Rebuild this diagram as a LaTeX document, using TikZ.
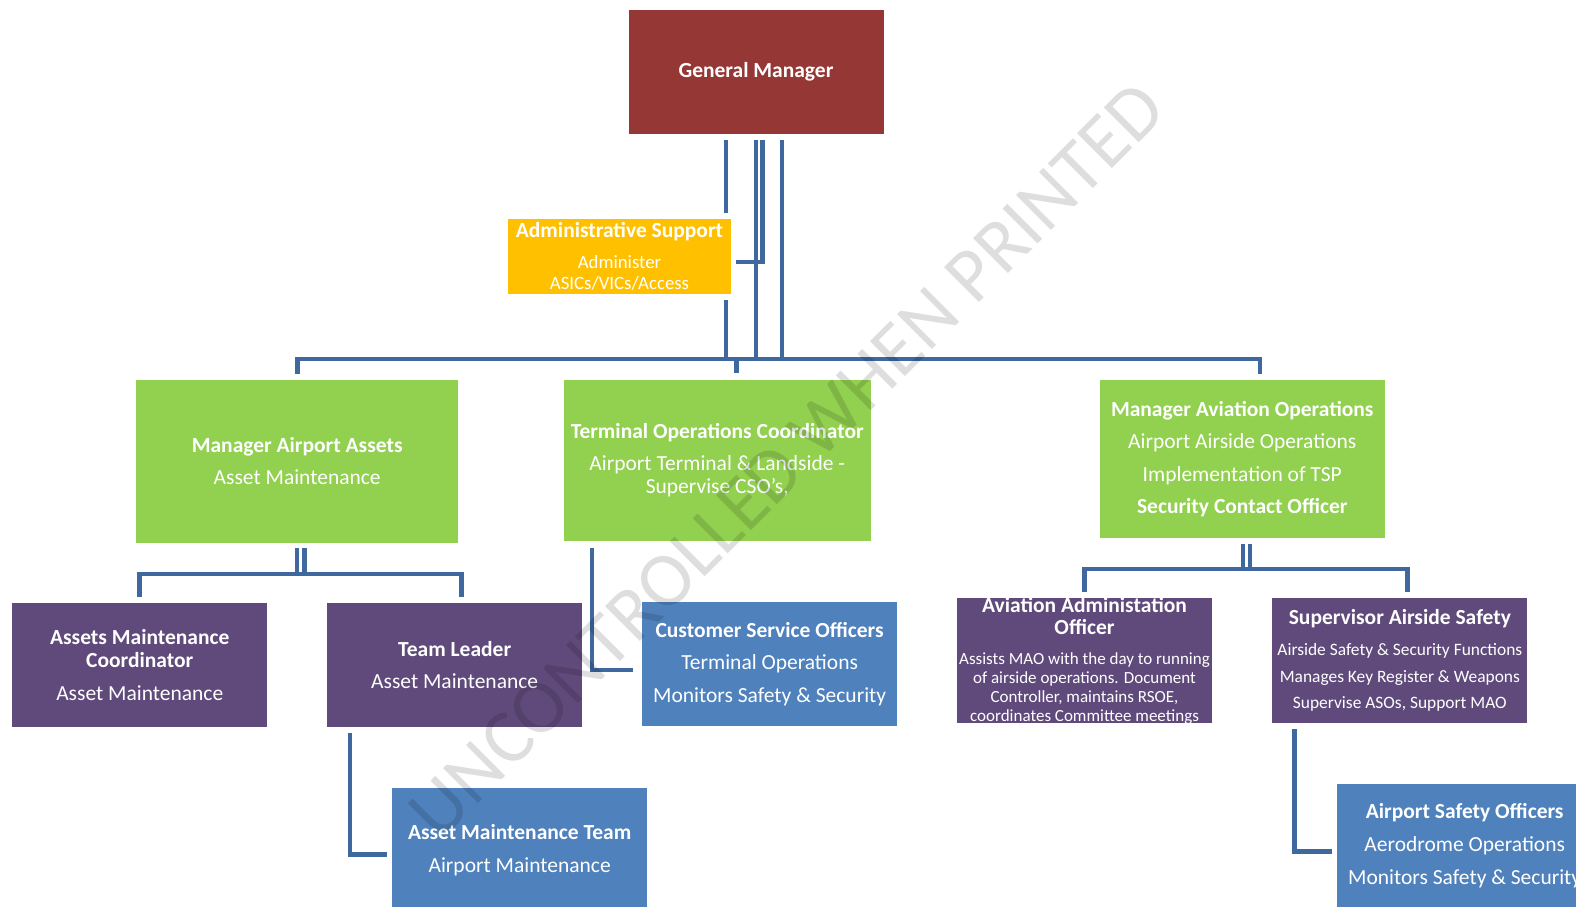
\documentclass[tikz,border=0pt]{standalone}
\usepackage{fontspec}
\setmainfont{Carlito}
\usepackage{tikz}

\definecolor{gmred}{HTML}{953735}
\definecolor{adminyellow}{HTML}{FFC000}
\definecolor{mgrgreen}{HTML}{92D050}
\definecolor{staffpurple}{HTML}{604A7B}
\definecolor{teamblue}{HTML}{4F81BD}
\definecolor{linkblue}{HTML}{3E689E}

\newcommand{\smalltxt}{\fontsize{17.4}{20}\selectfont}
\newcommand{\admintxt}{\fontsize{18.8}{20}\selectfont}
\newcommand{\tinytxt}{\fontsize{17}{19}\selectfont}

\begin{document}
\begin{tikzpicture}[x=1pt, y=-1pt,
  box/.style={inner sep=0pt, text=white, align=center, font=\fontsize{21.5}{24}\selectfont},
  unit/.style={box, minimum width=255pt, minimum height=124.5pt},
  conn/.style={draw=linkblue, line width=4.6pt}]
\useasboundingbox (0,0) rectangle (1576,906);

\node[box, fill=gmred, minimum width=255pt, minimum height=124.5pt] (gm) at (756,71.75) {\textbf{General Manager}};
\node[box, fill=adminyellow, minimum width=223pt, minimum height=75pt] (admin) at (619.5,256.5)
  {\textbf{Administrative Support}\\[7pt]{\admintxt Administer}\\[-3.4pt]{\admintxt ASICs/VICs/Access}};

\node[box, fill=mgrgreen, minimum width=321.5pt, minimum height=163pt] (maa) at (297.2,461)
  {\textbf{Manager Airport Assets}\\[8pt]Asset Maintenance};
\node[box, fill=mgrgreen, minimum width=306.5pt, minimum height=161.5pt] (toc) at (717.25,460.25)
  {\textbf{Terminal Operations Coordinator}\\[8pt]Airport Terminal \& Landside -\\[-0.7pt]Supervise CSO's,};
\node[box, fill=mgrgreen, minimum width=285.5pt, minimum height=158.8pt] (mao) at (1242.25,458.9)
  {\textbf{Manager Aviation Operations}\\[8.5pt]Airport Airside Operations\\[8.5pt]Implementation of TSP\\[8.5pt]\textbf{Security Contact Officer}};

\node[unit, fill=staffpurple] (amc) at (139.75,665)
  {\textbf{Assets Maintenance}\\[-0.7pt]\textbf{Coordinator}\\[8.4pt]Asset Maintenance};
\node[unit, fill=staffpurple] (tl) at (454.65,665)
  {\textbf{Team Leader}\\[8pt]Asset Maintenance};
\node[unit, fill=teamblue] (cso) at (769.65,664)
  {\textbf{Customer Service Officers}\\[8pt]Terminal Operations\\[8.5pt]Monitors Safety \& Security};
\node[unit, fill=staffpurple] (aao) at (1084.5,660.65) {};
\node[box] (aaotext) at (aao.center)
  {\textbf{Aviation Administation}\\[-1.5pt]\textbf{Officer}\\[6.4pt]{\tinytxt Assists MAO with the day to running}\\[-5pt]{\tinytxt of airside operations. Document}\\[-5pt]{\tinytxt Controller, maintains RSOE,}\\[-5.5pt]{\tinytxt coordinates Committee meetings}};
\node[unit, fill=staffpurple] (sas) at (1399.85,660.65)
  {\textbf{Supervisor Airside Safety}\\[6.6pt]{\smalltxt Airside Safety \& Security Functions}\\[2.9pt]{\smalltxt Manages Key Register \& Weapons}\\[2.8pt]{\smalltxt Supervise ASOs, Support MAO}};

\node[unit, fill=teamblue] (amt) at (519.65,849.75)
  {\textbf{Asset Maintenance Team}\\[9pt]Airport Maintenance};
\node[unit, fill=teamblue] (aso) at (1464.7,845.9)
  {\textbf{Airport Safety Officers}\\[9pt]Aerodrome Operations\\[9pt]Monitors Safety \& Security};

\coordinate (busA) at (726,359);
\coordinate (busB) at (755.8,359);
\coordinate (stub) at (762.2,262);
\coordinate (busC) at (782,359);
\draw[conn] ([yshift=-5.3pt]gm.south -| busA) -- ([yshift=6pt]admin.north -| busA);
\draw[conn] ([yshift=-6pt]admin.south -| busA) -- (busA);
\draw[conn] ([yshift=-5.3pt]gm.south -| busB) -- (busB);
\draw[conn] ([yshift=-5.3pt]gm.south -| stub) -- (stub) -- ([xshift=5pt]admin.east |- stub);
\draw[conn] ([yshift=-5.3pt]gm.south -| busC) -- (busC);
\draw[conn] ([yshift=5.5pt]maa.north) -- ++(0,-15) -| ([xshift=17.75pt,yshift=5.5pt]mao.north);
\draw[conn] ([xshift=19.5pt,yshift=6.5pt]toc.north) -- ++(0,-14);

\coordinate (aaL) at (296.8,574);
\coordinate (aaR) at (304.2,574);
\draw[conn] ([yshift=-5.5pt]maa.south -| aaL) -- (aaL);
\draw[conn] ([yshift=-5.5pt]maa.south -| aaR) -- (aaR);
\draw[conn] ([yshift=5.7pt]amc.north) |- (aaL) -| ([xshift=7pt,yshift=5.7pt]tl.north);

\coordinate (aoL) at (1243,569);
\coordinate (aoR) at (1250,569);
\draw[conn] ([yshift=-5.7pt]mao.south -| aoL) -- (aoL);
\draw[conn] ([yshift=-5.7pt]mao.south -| aoR) -- (aoR);
\draw[conn] ([yshift=5.9pt]aao.north) |- (aoL) -| ([xshift=7.65pt,yshift=5.9pt]sas.north);

\draw[conn] ([xshift=28.3pt,yshift=-6.3pt]toc.south west) |- ([xshift=-9pt,yshift=-6pt]cso.west);
\draw[conn] ([xshift=23pt,yshift=-5.7pt]tl.south west) |- ([xshift=-5.2pt,yshift=-4.6pt]amt.west);
\draw[conn] ([xshift=22.2pt,yshift=-6.2pt]sas.south west) |- ([xshift=-5.1pt,yshift=-5.7pt]aso.west);

\node[rotate=45, text=black, opacity=0.13, font=\fontsize{77}{80}\selectfont] (wm) at (787,460) {UNCONTROLLED WHEN PRINTED};
\end{tikzpicture}
\end{document}
